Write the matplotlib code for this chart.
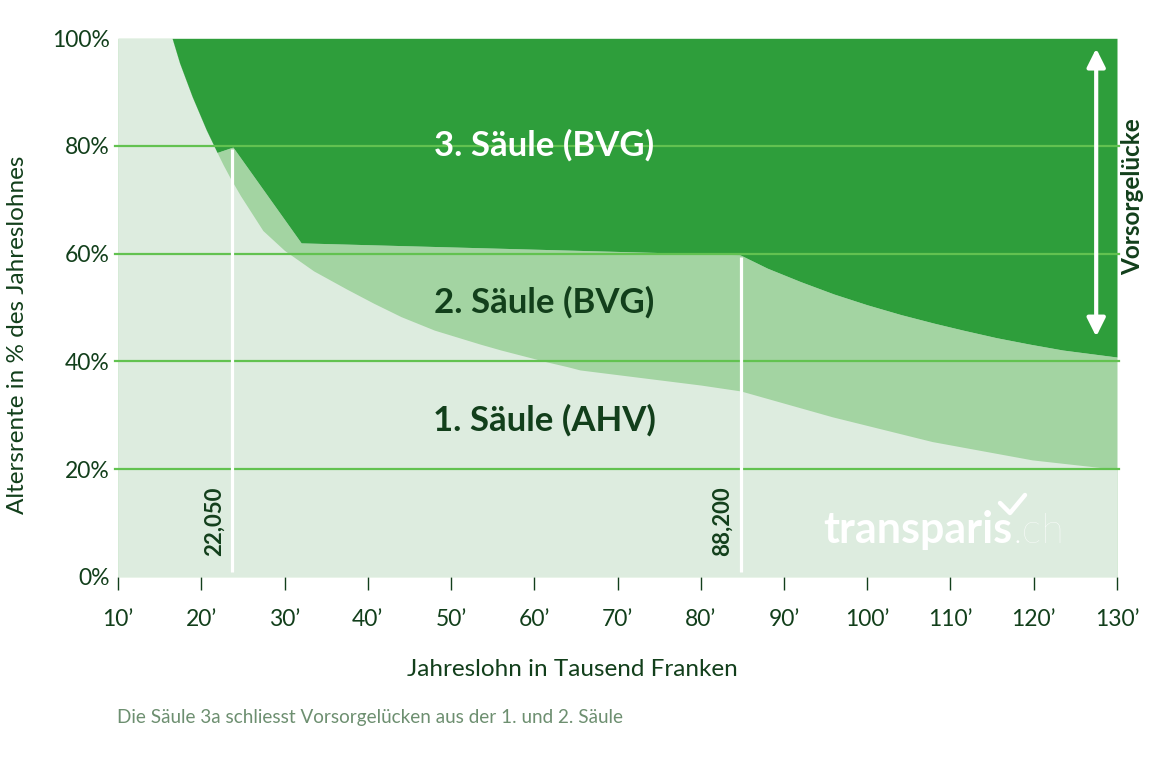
import matplotlib
matplotlib.use("Agg")
import matplotlib.pyplot as plt
from matplotlib.lines import Line2D

# ---------------- data ----------------
# Total pension of 1st + 2nd pillar (upper edge of 2. Säule), % of salary
total_x = [10, 16.5, 17.4, 18.9, 20.6, 21.9, 23.8, 32.0, 84.7, 88.0, 92.0, 96.0, 100.0,
           104.0, 108.0, 111.5, 115.5, 119.5, 123.5, 130]
total_y = [100, 100, 95.4, 89.2, 83.0, 78.8, 79.8, 62.0, 59.8, 57.3, 54.8, 52.5, 50.5,
           48.7, 47.1, 45.8, 44.4, 43.2, 42.1, 40.8]

# 1st pillar (AHV) pension, % of salary
ahv_x = [10, 16.5, 17.4, 18.9, 20.6, 21.9, 22.6, 23.5, 24.7, 27.4, 30.0, 33.5, 37.5, 40.7,
         44.0, 48.0, 53.5, 56.0, 61.5, 64.0, 65.5, 80.0, 84.8, 95.8, 107.8, 119.8, 127.9, 130]
ahv_y = [100, 100, 95.4, 89.2, 83.0, 78.8, 76.6, 74.0, 70.8, 64.3, 60.6, 56.8, 53.4, 50.8,
         48.3, 45.8, 43.2, 42.1, 39.9, 39.0, 38.4, 35.6, 34.5, 29.7, 25.1, 21.7, 20.3, 20.2]

# marker lines (salary thresholds)
marker_x = [23.7, 84.8]
marker_top = [79.5, 59.4]
marker_labels = ["22,050", "88,200"]

layer_labels = ["3. Säule (BVG)", "2. Säule (BVG)", "1. Säule (AHV)"]
layer_label_y = [80.2, 50.9, 29.1]

x_ticks = list(range(10, 131, 10))
x_ticklabels = [f"{v}\u2019" for v in x_ticks]
y_ticks = [0, 20, 40, 60, 80, 100]
y_ticklabels = [f"{v}%" for v in y_ticks]
grid_y = [20, 40, 60, 80]

# ---------------- style ----------------
DARK = "#2e9e3b"
MID = "#a3d4a2"
LIGHT = "#ddecdf"
GRID = "#62c250"
TXT = "#123f1b"
FOOT = "#6d8f70"

plt.rcParams['font.family'] = ['Lato', 'DejaVu Sans']

W, H = 1159, 764
fig = plt.figure(figsize=(W / 100, H / 100), dpi=100)
ax = fig.add_axes([118 / W, 1 - 576.7 / H, (1117 - 118) / W, (576.7 - 38.3) / H])
ax.set_xlim(10, 130)
ax.set_ylim(0, 100)
for s in ax.spines.values():
    s.set_visible(False)

# layers
ax.fill_between(total_x, 0, total_y, color=MID, lw=0, zorder=1)
ax.fill_between(ahv_x, 0, ahv_y, color=LIGHT, lw=0, zorder=2)
ax.fill_between(total_x, total_y, 100, color=DARK, lw=0, zorder=2)

# grid lines
for g in grid_y:
    ax.axhline(g, xmin=-0.003, xmax=1.002, color=GRID, lw=1.6, zorder=3, clip_on=False)

# marker lines
for mx, mt, ml in zip(marker_x, marker_top, marker_labels):
    ax.plot([mx, mx], [0.9, mt], color="white", lw=2.3, zorder=4, solid_capstyle="butt")
    ax.text(mx - 2.15, 10.3, ml, rotation=90, ha="center", va="center",
            fontsize=16, fontweight="bold", color=TXT, zorder=5)

# layer labels
for lab, ly, col in zip(layer_labels, layer_label_y, ["white", TXT, TXT]):
    ax.text(61.2, ly, lab, ha="center", va="center", fontsize=25,
            fontweight="bold", color=col, zorder=5)

# Vorsorgelücke arrow
ax.annotate("", xy=(127.5, 98.1), xytext=(127.5, 44.6),
            arrowprops=dict(arrowstyle="<|-|>,head_length=1.1,head_width=0.55",
                            color="white", lw=3, shrinkA=0, shrinkB=0), zorder=5)
fig.text(1133 / W, 1 - 196.5 / H, "Vorsorgelücke", rotation=90, ha="center", va="center",
         fontsize=17.5, fontweight="bold", color=TXT)

# ticks
ax.set_xticks(x_ticks)
ax.set_xticklabels(x_ticklabels, fontsize=16.5, color=TXT)
ax.set_yticks(y_ticks)
ax.set_yticklabels(y_ticklabels, fontsize=16.5, color=TXT)
ax.tick_params(axis="x", length=9.5, width=1.0, color=TXT, pad=14)
ax.tick_params(axis="y", length=0, pad=6)

# axis labels
fig.text(572 / W, 1 - 670 / H, "Jahreslohn in Tausend Franken", ha="center", va="center",
         fontsize=17.5, color=TXT)
fig.text(18 / W, 1 - 335 / H, "Altersrente in % des Jahreslohnes", rotation=90,
         ha="center", va="center", fontsize=17.5, color=TXT)

# footer
fig.text(117 / W, 1 - 717 / H, "Die Säule 3a schliesst Vorsorgelücken aus der 1. und 2. Säule",
         ha="left", va="center", fontsize=13.6, color=FOOT)

# watermark
fig.text(823 / W, 1 - 543 / H, "transparis", ha="left", va="baseline", fontsize=31,
         fontweight="bold", color="white")
fig.text(1013 / W, 1 - 543 / H, ".ch", ha="left", va="baseline", fontsize=30,
         fontweight="light", color="white")
fig.lines.append(Line2D([1000 / W, 1010 / W, 1025 / W],
                        [1 - 503 / H, 1 - 513 / H, 1 - 495 / H],
                        transform=fig.transFigure, color="white", lw=3.2,
                        solid_capstyle="round", solid_joinstyle="round"))

fig.savefig("out.png", dpi=100, facecolor="white")
